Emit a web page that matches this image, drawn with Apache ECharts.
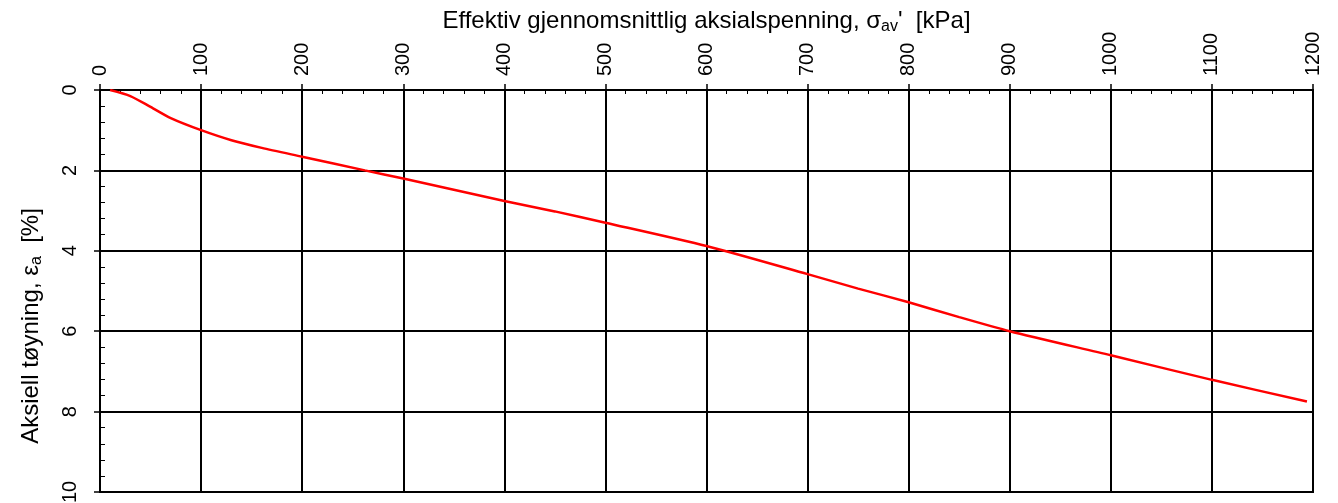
<!DOCTYPE html>
<html>
<head>
<meta charset="utf-8">
<script src="https://cdn.jsdelivr.net/npm/echarts@6/dist/echarts.min.js"></script>
<style>
  html, body { margin: 0; padding: 0; background: #fff; }
  #chart { width: 1338px; height: 503px; }
</style>
</head>
<body>
<div id="chart"></div>
<script>
// Effective average axial stress [kPa]
const stress = [10, 30, 50, 70, 100, 130, 160, 200, 262, 300, 400, 450, 500, 600, 700, 750, 800, 850, 900, 1000, 1100, 1194];
// Axial strain [%]
const strain = [0, 0.15, 0.42, 0.7, 1.0, 1.25, 1.44, 1.66, 2.0, 2.2, 2.76, 3.02, 3.3, 3.88, 4.58, 4.94, 5.28, 5.65, 6.0, 6.6, 7.21, 7.75];

const xMin = 0, xMax = 1200, xStep = 100, xMinor = 20;
const yMin = 0, yMax = 10, yStep = 2, yMinor = 0.4;

const xTitle = '{n|Effektiv gjennomsnittlig aksialspenning, σ}{s|av}{n|\'  [kPa]}';
const yTitle = '{n|Aksiell tøyning, ε}{s|a}{n|  [%]}';

const FONT = '"Liberation Sans", Arial, sans-serif';
const points = stress.map((v, i) => [v, strain[i]]);

const chart = echarts.init(document.getElementById('chart'), null, { renderer: 'canvas' });
chart.setOption({
  animation: false,
  backgroundColor: '#ffffff',
  grid: {
    left: 100, right: 25, top: 90, bottom: 11,
    containLabel: false, outerBoundsMode: 'none',
    show: true, borderColor: '#000', borderWidth: 2, backgroundColor: 'transparent'
  },
  xAxis: [
    {
      type: 'value', position: 'top', min: xMin, max: xMax, interval: xStep,
      name: xTitle, nameLocation: 'middle', nameGap: 55, nameMoveOverlap: false,
      nameTextStyle: {
        fontFamily: FONT, color: '#000',
        rich: {
          n: { fontSize: 24, lineHeight: 28, fontFamily: FONT, color: '#000' },
          s: { fontSize: 16, lineHeight: 14, fontFamily: FONT, color: '#000', verticalAlign: 'bottom' }
        }
      },
      axisLine: { show: true, lineStyle: { color: '#000', width: 2 } },
      axisTick: { show: true, inside: false, length: 6, lineStyle: { color: '#000', width: 1.5 } },
      axisLabel: { rotate: 90, margin: 14, fontSize: 20, fontFamily: FONT, color: '#000', formatter: v => String(v) },
      splitLine: { show: true, lineStyle: { color: '#000', width: 2 } }
    },
    {
      type: 'value', position: 'top', min: xMin, max: xMax, interval: xMinor,
      axisLine: { show: false },
      axisTick: { show: true, inside: true, length: 4, lineStyle: { color: '#000', width: 1 } },
      axisLabel: { show: false },
      splitLine: { show: false }
    }
  ],
  yAxis: [
    {
      type: 'value', position: 'left', inverse: true, min: yMin, max: yMax, interval: yStep,
      name: yTitle, nameLocation: 'middle', nameGap: 55, nameRotate: 90, nameMoveOverlap: false,
      nameTextStyle: {
        fontFamily: FONT, color: '#000', padding: [0, 70, 0, 0],
        rich: {
          n: { fontSize: 24, lineHeight: 28, fontFamily: FONT, color: '#000' },
          s: { fontSize: 16, lineHeight: 14, fontFamily: FONT, color: '#000', verticalAlign: 'bottom' }
        }
      },
      axisLine: { show: true, lineStyle: { color: '#000', width: 2 } },
      axisTick: { show: true, inside: false, length: 6, lineStyle: { color: '#000', width: 1.5 } },
      axisLabel: { rotate: 90, margin: 20, fontSize: 20, fontFamily: FONT, color: '#000', formatter: v => String(v) },
      splitLine: { show: true, lineStyle: { color: '#000', width: 2 } }
    },
    {
      type: 'value', position: 'left', inverse: true, min: yMin, max: yMax, interval: yMinor,
      axisLine: { show: false },
      axisTick: { show: true, inside: true, length: 5, lineStyle: { color: '#000', width: 1 } },
      axisLabel: { show: false },
      splitLine: { show: false }
    }
  ],
  series: [
    {
      type: 'line', xAxisIndex: 0, yAxisIndex: 0,
      data: points, showSymbol: false, smooth: 0.25,
      lineStyle: { color: '#ff0000', width: 2.5 }
    }
  ]
});
</script>
</body>
</html>
